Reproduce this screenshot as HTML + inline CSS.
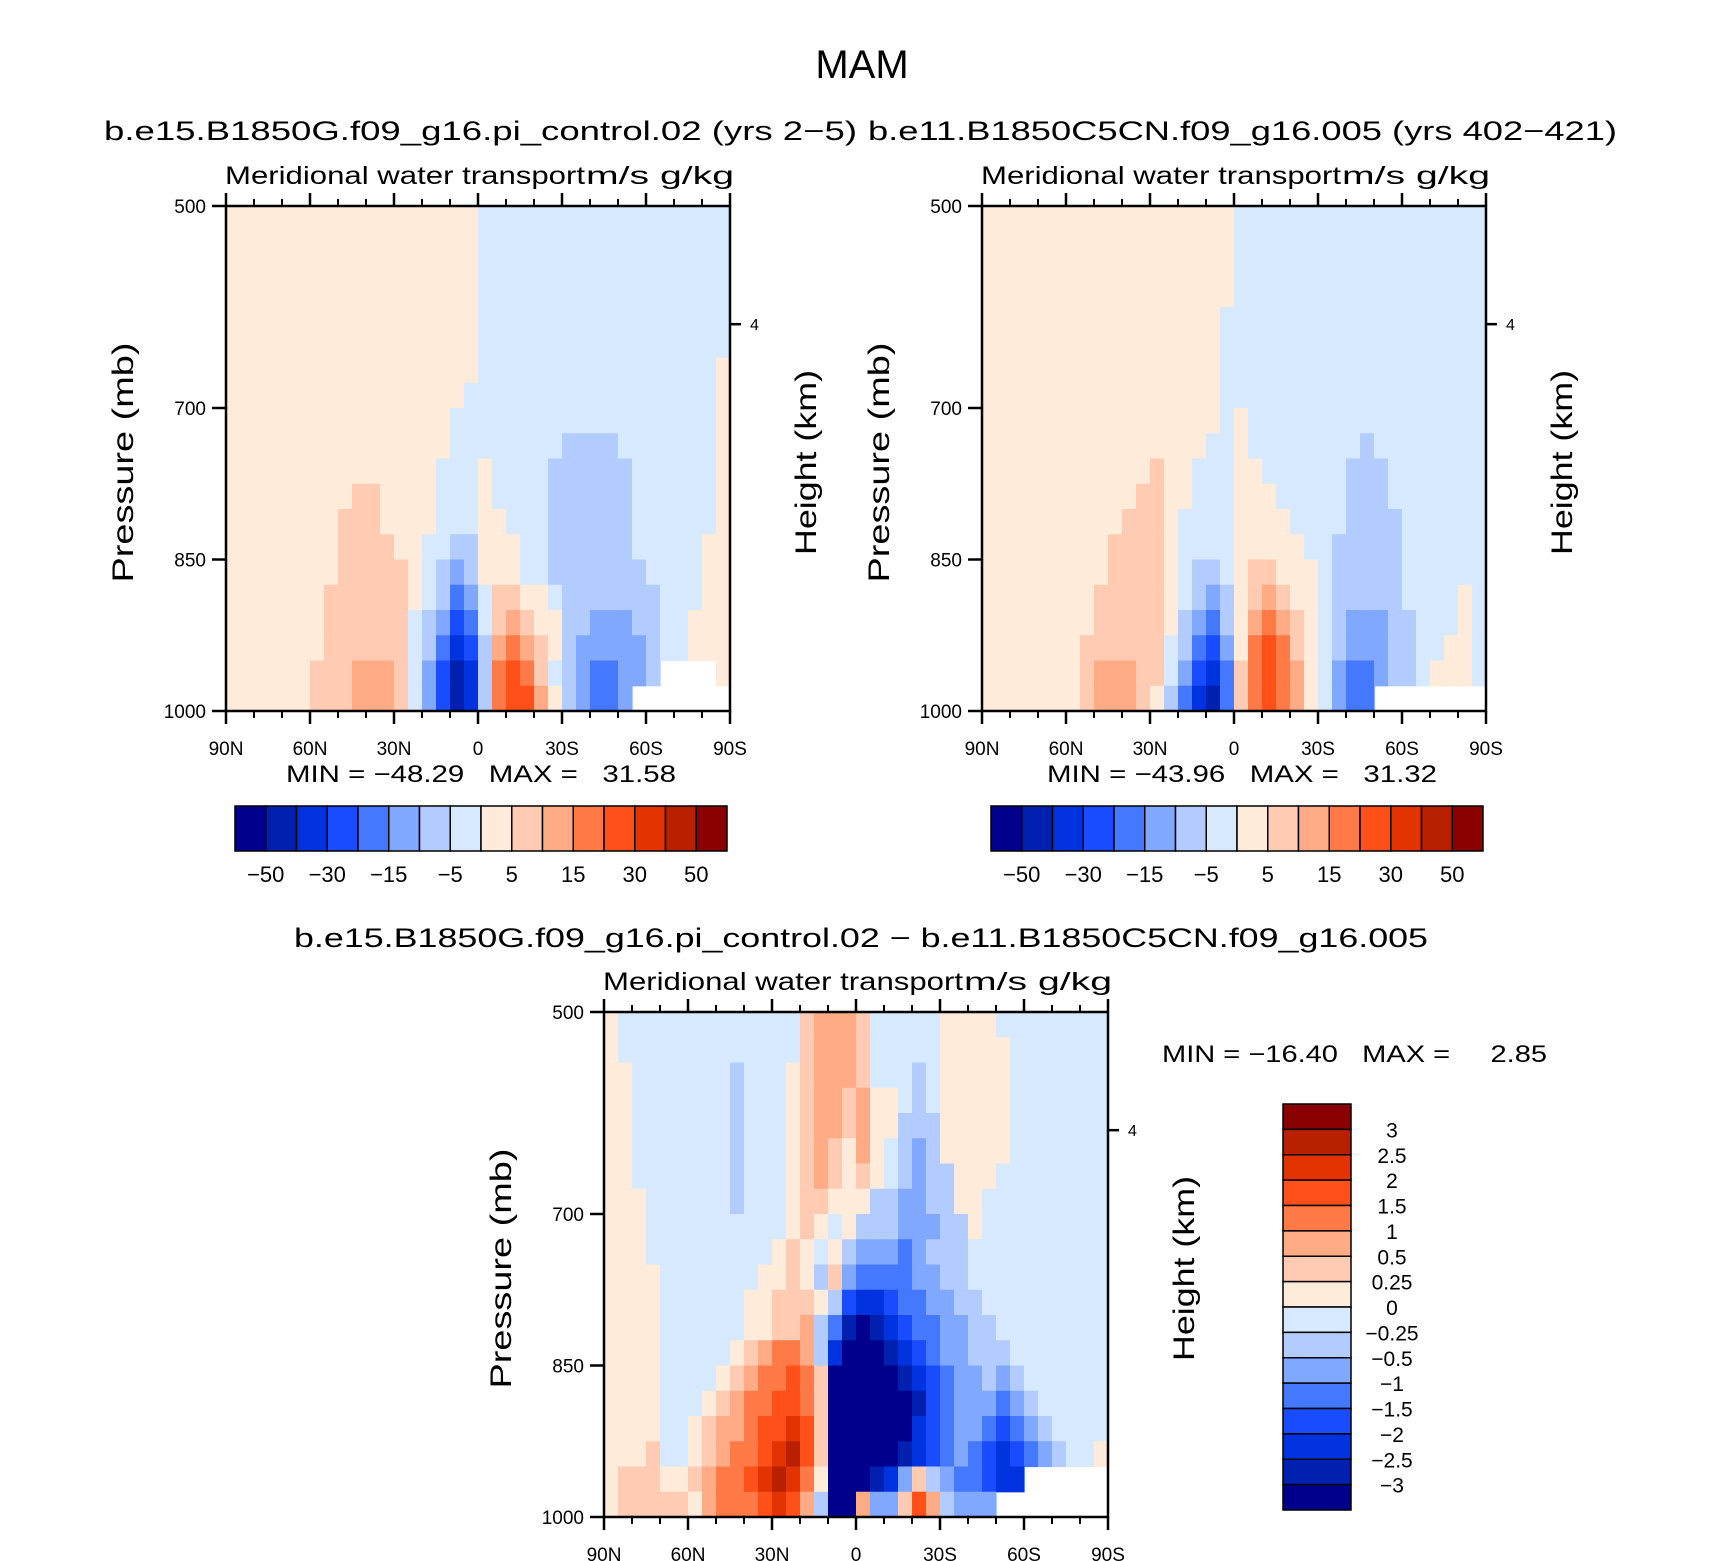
<!DOCTYPE html>
<html><head><meta charset="utf-8"><style>
html,body{margin:0;padding:0;background:#fff;}
svg{display:block;font-family:"Liberation Sans",sans-serif;}
text{white-space:pre;}
</style></head><body>
<svg id="fig" width="1710" height="1561" viewBox="0 0 1710 1561" xmlns="http://www.w3.org/2000/svg">
<rect width="1710" height="1561" fill="#fff"/>
<text x="862" y="78" font-size="40" text-anchor="middle">MAM</text>
<text x="104" y="140" font-size="27" textLength="753" lengthAdjust="spacingAndGlyphs">b.e15.B1850G.f09_g16.pi_control.02 (yrs 2−5)</text>
<text x="868" y="140" font-size="27" textLength="749" lengthAdjust="spacingAndGlyphs">b.e11.B1850C5CN.f09_g16.005 (yrs 402−421)</text>
<text x="294" y="947" font-size="27" textLength="1134" lengthAdjust="spacingAndGlyphs">b.e15.B1850G.f09_g16.pi_control.02 − b.e11.B1850C5CN.f09_g16.005</text>
<g id="layer"></g>
</svg>
<script>
// ---- shared coordinates (data space) ----
const lats = [87.5,82.5,77.5,72.5,67.5,62.5,57.5,52.5,47.5,42.5,37.5,32.5,27.5,22.5,17.5,12.5,7.5,2.5,-2.5,-7.5,-12.5,-17.5,-22.5,-27.5,-32.5,-37.5,-42.5,-47.5,-52.5,-57.5,-62.5,-67.5,-72.5,-77.5,-82.5,-87.5];
const pressures = [512.5,537.5,562.5,587.5,612.5,637.5,662.5,687.5,712.5,737.5,762.5,787.5,812.5,837.5,862.5,887.5,912.5,937.5,962.5,987.5];
const latTicks = [90,60,30,0,-30,-60,-90];
const latTickLabels = ["90N","60N","30N","0","30S","60S","90S"];
const presTicks = [500,700,850,1000];
const levelsAbs = [-50,-40,-30,-20,-15,-10,-5,0,5,10,15,20,30,40,50];
const levelsAbsLabels = ["−50","−30","−15","−5","5","15","30","50"];
const levelsDiff = [-3,-2.5,-2,-1.5,-1,-0.5,-0.25,0,0.25,0.5,1,1.5,2,2.5,3];
const levelsDiffLabels = ["3","2.5","2","1.5","1","0.5","0.25","0","−0.25","−0.5","−1","−1.5","−2","−2.5","−3"];
const colors = ["#00008c","#0020b0","#0033e0","#1a4cff","#4479ff","#80a8ff","#b3ccff","#d6e9ff","#ffebd9","#ffccb3","#ffab85","#ff7a47","#ff5019","#e33300","#b82000","#8b0000"];
const N = null;
// ---- panel 1 values (g/kg m/s) ----
const v1 = [
[2,2,2,2,2,2,2,2,2,2,2,2,2,2,2,2,2,2,-2,-2,-2,-2,-2,-2,-2,-2,-2,-2,-2,-2,-2,-2,-2,-2,-2,-2],
[2,2,2,2,2,2,2,2,2,2,2,2,2,2,2,2,2,2,-2,-2,-2,-2,-2,-2,-2,-2,-2,-2,-2,-2,-2,-2,-2,-2,-2,-2],
[2,2,2,2,2,2,2,2,2,2,2,2,2,2,2,2,2,2,-2,-2,-2,-2,-2,-2,-2,-2,-2,-2,-2,-2,-2,-2,-2,-2,-2,-2],
[2,2,2,2,2,2,2,2,2,2,2,2,2,2,2,2,2,2,-2,-2,-2,-2,-2,-2,-2,-2,-2,-2,-2,-2,-2,-2,-2,-2,-2,-2],
[2,2,2,2,2,2,2,2,2,2,2,2,2,2,2,2,2,2,-2,-2,-2,-2,-2,-2,-2,-2,-2,-2,-2,-2,-2,-2,-2,-2,-2,-2],
[2,2,2,2,2,2,2,2,2,2,2,2,2,2,2,2,2,2,-2,-2,-2,-2,-2,-2,-2,-2,-2,-2,-2,-2,-2,-2,-2,-2,-2,-2],
[2,2,2,2,2,2,2,2,2,2,2,2,2,2,2,2,2,2,-2,-2,-2,-2,-2,-2,-2,-2,-2,-2,-2,-2,-2,-2,-2,-2,-2,2],
[2,2,2,2,2,2,2,2,2,2,2,2,2,2,2,2,2,-2,-2,-2,-2,-2,-2,-2,-2,-2,-2,-2,-2,-2,-2,-2,-2,-2,-2,2],
[2,2,2,2,2,2,2,2,2,2,2,2,2,2,2,2,-2,-2,-2,-2,-2,-2,-2,-2,-2,-2,-2,-2,-2,-2,-2,-2,-2,-2,-2,2],
[2,2,2,2,2,2,2,2,2,2,2,2,2,2,2,2,-2,-2,-2,-2,-2,-2,-2,-2,-7,-7,-7,-7,-2,-2,-2,-2,-2,-2,-2,2],
[2,2,2,2,2,2,2,2,2,2,2,2,2,2,2,-2,-2,-2,2,-2,-2,-2,-2,-7,-7,-7,-7,-7,-7,-2,-2,-2,-2,-2,-2,2],
[2,2,2,2,2,2,2,2,2,7,7,2,2,2,2,-2,-2,-2,2,-2,-2,-2,-2,-7,-7,-7,-7,-7,-7,-2,-2,-2,-2,-2,-2,2],
[2,2,2,2,2,2,2,2,7,7,7,2,2,2,2,-2,-2,-2,2,2,-2,-2,-2,-7,-7,-7,-7,-7,-7,-2,-2,-2,-2,-2,-2,2],
[2,2,2,2,2,2,2,2,7,7,7,7,2,2,-2,-2,-7,-7,2,2,2,-2,-2,-7,-7,-7,-7,-7,-7,-2,-2,-2,-2,-2,2,2],
[2,2,2,2,2,2,2,2,7,7,7,7,7,2,-2,-7,-12,-7,2,2,2,-2,-2,-7,-7,-7,-7,-7,-7,-7,-2,-2,-2,-2,2,2],
[2,2,2,2,2,2,2,7,7,7,7,7,7,2,-2,-7,-17,-12,-2,7,7,2,2,-2,-7,-7,-7,-7,-7,-7,-7,-2,-2,-2,2,2],
[2,2,2,2,2,2,2,7,7,7,7,7,7,-2,-7,-12,-25,-17,-2,7,12,7,2,2,-7,-7,-12,-12,-12,-7,-7,-2,-2,2,2,2],
[2,2,2,2,2,2,2,7,7,7,7,7,7,-2,-7,-17,-35,-25,-7,12,17,12,7,2,-7,-12,-12,-12,-12,-12,-7,-2,-2,2,2,2],
[2,2,2,2,2,2,7,7,7,12,12,12,7,-2,-12,-25,-45,-35,-7,17,25,17,7,-2,-7,-12,-17,-17,-12,-12,-7,N,N,N,N,2],
[2,2,2,2,2,2,7,7,7,12,12,12,7,-2,-12,-25,-45,-35,-7,17,25,25,12,2,-7,-12,-17,-17,-12,N,N,N,N,N,N,N]
];
// ---- panel 2 values ----
const v2 = [
[2,2,2,2,2,2,2,2,2,2,2,2,2,2,2,2,2,2,-2,-2,-2,-2,-2,-2,-2,-2,-2,-2,-2,-2,-2,-2,-2,-2,-2,-2],
[2,2,2,2,2,2,2,2,2,2,2,2,2,2,2,2,2,2,-2,-2,-2,-2,-2,-2,-2,-2,-2,-2,-2,-2,-2,-2,-2,-2,-2,-2],
[2,2,2,2,2,2,2,2,2,2,2,2,2,2,2,2,2,2,-2,-2,-2,-2,-2,-2,-2,-2,-2,-2,-2,-2,-2,-2,-2,-2,-2,-2],
[2,2,2,2,2,2,2,2,2,2,2,2,2,2,2,2,2,2,-2,-2,-2,-2,-2,-2,-2,-2,-2,-2,-2,-2,-2,-2,-2,-2,-2,-2],
[2,2,2,2,2,2,2,2,2,2,2,2,2,2,2,2,2,-2,-2,-2,-2,-2,-2,-2,-2,-2,-2,-2,-2,-2,-2,-2,-2,-2,-2,-2],
[2,2,2,2,2,2,2,2,2,2,2,2,2,2,2,2,2,-2,-2,-2,-2,-2,-2,-2,-2,-2,-2,-2,-2,-2,-2,-2,-2,-2,-2,-2],
[2,2,2,2,2,2,2,2,2,2,2,2,2,2,2,2,2,-2,-2,-2,-2,-2,-2,-2,-2,-2,-2,-2,-2,-2,-2,-2,-2,-2,-2,-2],
[2,2,2,2,2,2,2,2,2,2,2,2,2,2,2,2,2,-2,-2,-2,-2,-2,-2,-2,-2,-2,-2,-2,-2,-2,-2,-2,-2,-2,-2,-2],
[2,2,2,2,2,2,2,2,2,2,2,2,2,2,2,2,2,-2,2,-2,-2,-2,-2,-2,-2,-2,-2,-2,-2,-2,-2,-2,-2,-2,-2,-2],
[2,2,2,2,2,2,2,2,2,2,2,2,2,2,2,2,-2,-2,2,-2,-2,-2,-2,-2,-2,-2,-2,-7,-2,-2,-2,-2,-2,-2,-2,-2],
[2,2,2,2,2,2,2,2,2,2,2,2,7,2,2,-2,-2,-2,2,2,-2,-2,-2,-2,-2,-2,-7,-7,-7,-2,-2,-2,-2,-2,-2,-2],
[2,2,2,2,2,2,2,2,2,2,2,7,7,2,2,-2,-2,-2,2,2,2,-2,-2,-2,-2,-2,-7,-7,-7,-2,-2,-2,-2,-2,-2,-2],
[2,2,2,2,2,2,2,2,2,2,7,7,7,2,-2,-2,-2,-2,2,2,2,2,-2,-2,-2,-2,-7,-7,-7,-7,-2,-2,-2,-2,-2,-2],
[2,2,2,2,2,2,2,2,2,7,7,7,7,2,-2,-2,-2,-2,2,2,2,2,2,-2,-2,-7,-7,-7,-7,-7,-2,-2,-2,-2,-2,-2],
[2,2,2,2,2,2,2,2,2,7,7,7,7,2,-2,-7,-7,-2,2,7,7,2,2,2,-2,-7,-7,-7,-7,-7,-2,-2,-2,-2,-2,-2],
[2,2,2,2,2,2,2,2,7,7,7,7,7,2,-2,-7,-12,-7,2,7,12,7,2,2,-2,-7,-7,-7,-7,-7,-2,-2,-2,-2,2,-2],
[2,2,2,2,2,2,2,2,7,7,7,7,7,2,-7,-12,-17,-7,2,12,17,12,7,2,-2,-7,-12,-12,-12,-7,-7,-2,-2,-2,2,-2],
[2,2,2,2,2,2,2,7,7,7,7,7,7,-2,-7,-17,-25,-12,2,17,25,17,7,2,-2,-7,-12,-12,-12,-7,-7,-2,-2,2,2,-2],
[2,2,2,2,2,2,2,7,12,12,12,7,7,-2,-12,-25,-35,-17,7,17,25,17,12,2,-2,-12,-17,-17,-12,-7,-7,-2,2,2,2,-2],
[2,2,2,2,2,2,2,7,12,12,12,7,2,-7,-17,-35,-45,-17,7,17,25,17,12,2,-2,-12,-17,-17,N,N,N,N,N,N,N,N]
];
// ---- panel 3 values (difference) ----
const v3 = [
[0.1,-0.1,-0.1,-0.1,-0.1,-0.1,-0.1,-0.1,-0.1,-0.1,-0.1,-0.1,-0.1,-0.1,0.4,0.75,0.75,0.75,0.4,-0.1,-0.1,-0.1,-0.1,-0.1,0.1,0.1,0.1,0.1,-0.1,-0.1,-0.1,-0.1,-0.1,-0.1,-0.1,-0.1],
[0.1,-0.1,-0.1,-0.1,-0.1,-0.1,-0.1,-0.1,-0.1,-0.1,-0.1,-0.1,-0.1,-0.1,0.4,0.75,0.75,0.75,0.4,-0.1,-0.1,-0.1,-0.1,-0.1,0.1,0.1,0.1,0.1,0.1,-0.1,-0.1,-0.1,-0.1,-0.1,-0.1,-0.1],
[0.1,0.1,-0.1,-0.1,-0.1,-0.1,-0.1,-0.1,-0.1,-0.4,-0.1,-0.1,-0.1,0.1,0.4,0.75,0.75,0.75,0.4,-0.1,-0.1,-0.1,-0.4,-0.1,0.1,0.1,0.1,0.1,0.1,-0.1,-0.1,-0.1,-0.1,-0.1,-0.1,-0.1],
[0.1,0.1,-0.1,-0.1,-0.1,-0.1,-0.1,-0.1,-0.1,-0.4,-0.1,-0.1,-0.1,0.1,0.4,0.75,0.75,0.4,0.75,0.1,0.1,-0.1,-0.4,-0.1,0.1,0.1,0.1,0.1,0.1,-0.1,-0.1,-0.1,-0.1,-0.1,-0.1,-0.1],
[0.1,0.1,-0.1,-0.1,-0.1,-0.1,-0.1,-0.1,-0.1,-0.4,-0.1,-0.1,-0.1,0.1,0.4,0.75,0.75,0.4,0.75,0.1,0.1,-0.4,-0.4,-0.4,0.1,0.1,0.1,0.1,0.1,-0.1,-0.1,-0.1,-0.1,-0.1,-0.1,-0.1],
[0.1,0.1,-0.1,-0.1,-0.1,-0.1,-0.1,-0.1,-0.1,-0.4,-0.1,-0.1,-0.1,0.1,0.4,0.75,0.4,0.1,0.75,0.1,-0.1,-0.4,-0.75,-0.4,0.1,0.1,0.1,0.1,0.1,-0.1,-0.1,-0.1,-0.1,-0.1,-0.1,-0.1],
[0.1,0.1,-0.1,-0.1,-0.1,-0.1,-0.1,-0.1,-0.1,-0.4,-0.1,-0.1,-0.1,0.1,0.4,0.75,0.4,0.1,0.4,0.1,-0.1,-0.4,-0.75,-0.4,-0.4,0.1,0.1,0.1,-0.1,-0.1,-0.1,-0.1,-0.1,-0.1,-0.1,-0.1],
[0.1,0.1,0.1,-0.1,-0.1,-0.1,-0.1,-0.1,-0.1,-0.4,-0.1,-0.1,-0.1,0.1,0.4,0.4,0.1,0.1,0.1,-0.4,-0.4,-0.75,-0.75,-0.4,-0.4,0.1,0.1,-0.1,-0.1,-0.1,-0.1,-0.1,-0.1,-0.1,-0.1,-0.1],
[0.1,0.1,0.1,-0.1,-0.1,-0.1,-0.1,-0.1,-0.1,-0.1,-0.1,-0.1,-0.1,0.1,0.4,0.1,-0.1,0.1,-0.4,-0.4,-0.4,-0.75,-0.75,-0.75,-0.4,-0.4,0.1,-0.1,-0.1,-0.1,-0.1,-0.1,-0.1,-0.1,-0.1,-0.1],
[0.1,0.1,0.1,-0.1,-0.1,-0.1,-0.1,-0.1,-0.1,-0.1,-0.1,-0.1,0.1,0.4,0.1,-0.1,0.1,-0.4,-0.75,-0.75,-0.75,-1.25,-0.75,-0.4,-0.4,-0.4,-0.1,-0.1,-0.1,-0.1,-0.1,-0.1,-0.1,-0.1,-0.1,-0.1],
[0.1,0.1,0.1,0.1,-0.1,-0.1,-0.1,-0.1,-0.1,-0.1,-0.1,0.1,0.1,0.4,0.1,-0.4,0.4,-0.75,-1.25,-1.25,-1.25,-1.25,-0.75,-0.75,-0.4,-0.4,-0.1,-0.1,-0.1,-0.1,-0.1,-0.1,-0.1,-0.1,-0.1,-0.1],
[0.1,0.1,0.1,0.1,-0.1,-0.1,-0.1,-0.1,-0.1,-0.1,0.1,0.1,0.4,0.4,0.4,0.1,-0.4,-1.75,-2.25,-2.25,-1.75,-1.25,-1.25,-0.75,-0.75,-0.4,-0.4,-0.1,-0.1,-0.1,-0.1,-0.1,-0.1,-0.1,-0.1,-0.1],
[0.1,0.1,0.1,0.1,-0.1,-0.1,-0.1,-0.1,-0.1,-0.1,0.1,0.1,0.4,0.4,0.75,-0.4,-1.25,-2.75,-3.5,-2.75,-2.25,-1.75,-1.25,-1.25,-0.75,-0.75,-0.4,-0.4,-0.1,-0.1,-0.1,-0.1,-0.1,-0.1,-0.1,-0.1],
[0.1,0.1,0.1,0.1,-0.1,-0.1,-0.1,-0.1,-0.1,0.1,0.4,0.75,1.25,1.25,0.75,-0.4,-2.25,-3.5,-3.5,-3.5,-2.75,-2.25,-1.75,-1.25,-0.75,-0.75,-0.4,-0.4,-0.4,-0.1,-0.1,-0.1,-0.1,-0.1,-0.1,-0.1],
[0.1,0.1,0.1,0.1,-0.1,-0.1,-0.1,-0.1,0.1,0.4,0.75,1.25,1.25,1.75,1.25,0.4,-3.5,-3.5,-3.5,-3.5,-3.5,-2.75,-2.25,-1.75,-1.25,-0.75,-0.75,-0.4,-0.75,-0.4,-0.1,-0.1,-0.1,-0.1,-0.1,-0.1],
[0.1,0.1,0.1,0.1,-0.1,-0.1,-0.1,0.1,0.4,0.75,1.25,1.25,1.75,1.75,1.25,0.4,-3.5,-3.5,-3.5,-3.5,-3.5,-3.5,-2.75,-1.75,-1.25,-0.75,-0.75,-0.75,-1.25,-0.75,-0.4,-0.1,-0.1,-0.1,-0.1,-0.1],
[0.1,0.1,0.1,0.1,-0.1,-0.1,0.1,0.4,0.75,0.75,1.25,1.75,1.75,2.25,1.75,0.4,-3.5,-3.5,-3.5,-3.5,-3.5,-3.5,-2.25,-1.75,-1.25,-0.75,-0.75,-1.25,-1.75,-1.25,-0.75,-0.4,-0.1,-0.1,-0.1,-0.1],
[0.1,0.1,0.1,0.4,-0.1,-0.1,0.1,0.4,0.75,1.25,1.25,1.75,2.25,2.75,1.75,0.4,-3.5,-3.5,-3.5,-3.5,-3.5,-2.75,-2.25,-1.75,-1.25,-0.75,-1.25,-1.75,-2.25,-1.75,-1.25,-0.75,-0.4,-0.1,-0.1,0.1],
[0.1,0.4,0.4,0.4,0.1,0.1,0.4,0.75,1.25,1.25,1.75,2.25,2.75,2.25,1.25,0.1,-3.5,-3.5,-3.5,-2.75,-2.25,-0.75,0.4,-0.4,-0.75,-1.25,-1.25,-1.75,-2.25,-2.25,N,N,N,N,N,N],
[0.1,0.4,0.4,0.4,0.4,0.4,0.1,0.75,1.25,1.25,1.25,1.75,2.25,1.75,0.75,-0.4,-3.5,-3.5,0.75,-0.75,-0.75,0.4,1.75,0.75,-0.4,-0.75,-0.75,-0.75,N,N,N,N,N,N,N,N]
];

const NS = "http://www.w3.org/2000/svg";
const layer = document.getElementById('layer');
function mk(tag, attrs, parent){
  const e = document.createElementNS(NS, tag);
  for (const k in attrs) e.setAttribute(k, attrs[k]);
  (parent||layer).appendChild(e);
  return e;
}
function colorFor(v, levels){
  let i = 0;
  while (i < levels.length && v >= levels[i]) i++;
  return colors[i];
}
const W = 504, H = 505;

function drawPanel(id, x0, y0, vals, levels){
  const g = mk('g', {});
  
  
  const xs = lat => x0 + (90 - lat) / 180 * W;
  const ys = p => y0 + (p - 500) / 500 * H;
  const cells = mk('g', {}, g);
  
  
  for (let r = 0; r < pressures.length; r++){
    for (let c = 0; c < lats.length; c++){
      const v = vals[r][c];
      if (v === null) continue;
      const xa = xs(lats[c] + 2.5), xb = xs(lats[c] - 2.5);
      const ya = ys(pressures[r] - 12.5), yb = ys(pressures[r] + 12.5);
      const rc = mk('rect', {x: xa.toFixed(2), y: ya.toFixed(2), width: (xb - xa + 0.6).toFixed(2), height: (yb - ya + 0.6).toFixed(2), fill: colorFor(v, levels)}, cells);
      
      
    }
  }
  const ax = mk('g', {stroke: '#000', 'stroke-width': 2.5, fill: 'none'}, g);
  
  
  mk('rect', {x: x0, y: y0, width: W, height: H}, ax);
  for (let lat = 90; lat >= -90; lat -= 10){
    const x = xs(lat), major = (lat % 30 === 0), len = major ? 13 : 7;
    mk('line', {x1: x, y1: y0, x2: x, y2: y0 - len, 'stroke-width': major ? 2.5 : 2}, ax);
    mk('line', {x1: x, y1: y0 + H, x2: x, y2: y0 + H + len, 'stroke-width': major ? 2.5 : 2}, ax);
  }
  latTicks.forEach((lat, i) => {
    const t = mk('text', {x: xs(lat), y: y0 + H + 44, 'font-size': 19, 'text-anchor': 'middle'}, g);
    t.textContent = latTickLabels[i];
    
    
  });
  presTicks.forEach(p => {
    const y = ys(p);
    mk('line', {x1: x0, y1: y, x2: x0 - 14, y2: y}, ax);
    const t = mk('text', {x: x0 - 20, y: y + 7, 'font-size': 19, 'text-anchor': 'end'}, g);
    t.textContent = String(p);
    
    
  });
  const yh = ys(617);
  mk('line', {x1: x0 + W, y1: yh, x2: x0 + W + 11, y2: yh}, ax);
  const t4 = mk('text', {x: x0 + W + 20, y: yh + 6, 'font-size': 16}, g);
  t4.textContent = '4';
  
  
  const t1 = mk('text', {x: x0 - 1, y: y0 - 22, 'font-size': 25, textLength: 360, lengthAdjust: 'spacingAndGlyphs'}, g);
  t1.textContent = 'Meridional water transport';
  
  
  const t2 = mk('text', {x: x0 + 360, y: y0 - 22, 'font-size': 25, textLength: 148, lengthAdjust: 'spacingAndGlyphs'}, g);
  t2.textContent = 'm/s g/kg';
  
  
  const cy = y0 + H / 2 + 4;
  const tp = mk('text', {x: 0, y: 0, 'font-size': 30, 'text-anchor': 'middle', textLength: 240, lengthAdjust: 'spacingAndGlyphs', transform: `translate(${x0 - 93},${cy}) rotate(-90)`}, g);
  tp.textContent = 'Pressure (mb)';
  
  
  const th = mk('text', {x: 0, y: 0, 'font-size': 30, 'text-anchor': 'middle', textLength: 185, lengthAdjust: 'spacingAndGlyphs', transform: `translate(${x0 + W + 86},${cy}) rotate(-90)`}, g);
  th.textContent = 'Height (km)';
  
  
}

function hColorbar(id, x0, y0, w, h){
  const g = mk('g', {});
  
  
  const bw = w / colors.length;
  colors.forEach((c, i) => {
    const r = mk('rect', {x: x0 + i * bw, y: y0, width: bw, height: h, fill: c, stroke: '#000', 'stroke-width': 1.5}, g);
    
    
  });
  levelsAbsLabels.forEach((lab, k) => {
    const t = mk('text', {x: x0 + (2 * k + 1) * bw, y: y0 + h + 31, 'font-size': 22, 'text-anchor': 'middle'}, g);
    t.textContent = lab;
    
    
  });
}
function vColorbar(x0, y0, w, h){
  const g = mk('g', {});
  
  
  const bh = h / colors.length;
  colors.slice().reverse().forEach((c, i) => {
    const r = mk('rect', {x: x0, y: y0 + i * bh, width: w, height: bh, fill: c, stroke: '#000', 'stroke-width': 1.5}, g);
    
    
  });
  levelsDiffLabels.forEach((lab, k) => {
    const t = mk('text', {x: x0 + 109, y: y0 + (k + 1) * bh + 8, 'font-size': 21, 'text-anchor': 'middle'}, g);
    t.textContent = lab;
    
    
  });
}
function stat(id, x, y, len, txt){
  const t = mk('text', {x: x, y: y, 'font-size': 24, textLength: len, lengthAdjust: 'spacingAndGlyphs', style: 'white-space:pre'});
  t.textContent = txt;
  
  
}

drawPanel('panel1', 226, 206, v1, levelsAbs);
drawPanel('panel2', 982, 206, v2, levelsAbs);
drawPanel('panel3', 604, 1012, v3, levelsDiff);
hColorbar('panel1', 235, 806, 492, 45);
hColorbar('panel2', 991, 806, 492, 45);
vColorbar(1283, 1104, 68, 406);
stat('panel1', 286, 782, 390, 'MIN = −48.29   MAX =   31.58');
stat('panel2', 1047, 782, 390, 'MIN = −43.96   MAX =   31.32');
stat('panel3', 1162, 1062, 385, 'MIN = −16.40   MAX =     2.85');
</script>
</body></html>
